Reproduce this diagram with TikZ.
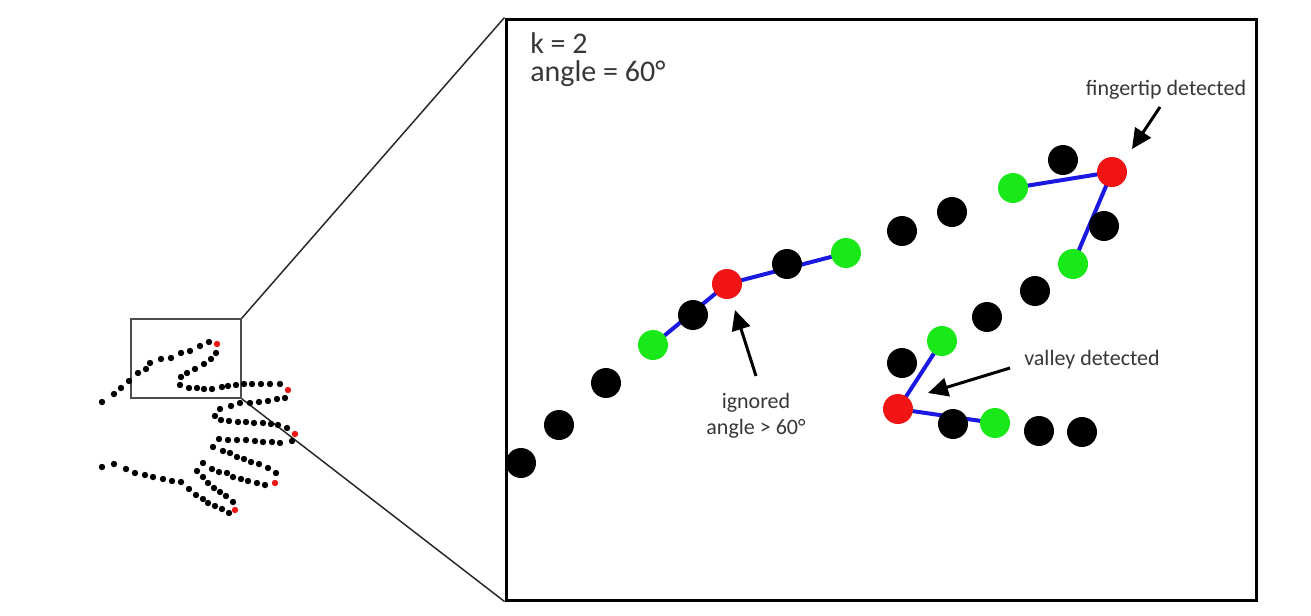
\documentclass[tikz,border=0pt]{standalone}
\usepackage{fontspec}
\setmainfont{Carlito}
\usetikzlibrary{arrows.meta,backgrounds}
\definecolor{dotgreen}{RGB}{25,232,25}
\definecolor{dotred}{RGB}{240,20,20}
\definecolor{lineblue}{RGB}{25,25,225}
\definecolor{txt}{RGB}{55,55,55}
\begin{document}
\begin{tikzpicture}[x=0.75pt,y=-0.75pt,
  bigdot/.style={circle,inner sep=0pt,minimum size=22.5pt},
  blk/.style={bigdot,fill=black},
  grn/.style={bigdot,fill=dotgreen},
  rd/.style={bigdot,fill=dotred},
  blueline/.style={draw=lineblue,line width=3pt},
  pointer/.style={draw=black,line width=2.25pt,-{Triangle[length=15pt,width=14pt]}},
  lbl/.style={text=txt,inner sep=0pt,font=\fontsize{16.5}{19.5}\selectfont},
  bigtxt/.style={text=txt,inner sep=0pt,anchor=west,font=\fontsize{22.5}{27}\selectfont},
  frame/.style={draw=black,line width=2.25pt,inner sep=0pt},
  smallframe/.style={draw=black!70,line width=1.1pt,inner sep=0pt},
  zoomline/.style={draw=black!85,line width=1.1pt}]
\useasboundingbox (0,0) rectangle (1311,615);
% frames
\node[smallframe,minimum width=82.5pt,minimum height=59.25pt] (sb) at (186,358.5) {};
\node[frame,minimum width=562.5pt,minimum height=435.75pt] (bb) at (881,309.5) {};
\draw[zoomline] (sb.north east) -- (bb.north west);
\draw[zoomline] (sb.south east) -- (bb.south west);
% small hand contour
\foreach \x/\y in {102/402,114/394,121/388,129/381,138/373,146/369,150/363,161/359,171/358,181/353,190/351,200/346,209/342,
  216/353,211/359,204/364,195/369,187/373,181/377,180/385,189/388,197/388,204/389,212/389,222/387,228/386,236/385,244/384,252/384,261/384,270/384,280/384,
  285/398,277/399,268/401,259/402,250/403,240/403,231/406,220/409,215/416,221/420,229/421,238/422,246/422,254/423,263/423,271/424,278/425,287/428,
  292/441,280/443,272/442,263/442,255/441,246/440,237/440,228/440,219/439,213/447,223/451,230/453,237/457,244/459,251/462,259/464,268/468,276/473,
  265/485,257/483,248/481,241/479,233/477,227/473,219/472,212/469,203/463,197/471,203/477,208/483,214/488,220/492,226/496,233/502,
  229/513,222/509,215/506,208/503,203/499,196/495,189/489,181/482,172/481,163/479,153/477,145/475,135/473,126/469,114/464,102/467}
  \fill[black] (\x,\y) circle[radius=2.4pt];
\foreach \x/\y in {217/344,288/390,295/434,275/483,235/510}
  \fill[dotred] (\x,\y) circle[radius=2.4pt];
% zoomed contour
\node[blk] (b1) at (521,463) {};
\node[blk] (b2) at (559,425) {};
\node[blk] (b3) at (606,383) {};
\node[grn] (g1) at (653,345) {};
\node[blk] (b4) at (693,315) {};
\node[rd]  (r1) at (727,284) {};
\node[blk] (b5) at (787,264) {};
\node[grn] (g2) at (846,253) {};
\node[blk] (b6) at (902,231) {};
\node[blk] (b7) at (952,212) {};
\node[grn] (g3) at (1013,188) {};
\node[blk] (b8) at (1063,160) {};
\node[rd]  (r2) at (1112,172) {};
\node[blk] (b9) at (1104,226) {};
\node[grn] (g4) at (1073,264) {};
\node[blk] (b10) at (1035,291) {};
\node[blk] (b11) at (987,317) {};
\node[grn] (g5) at (942,341) {};
\node[blk] (b12) at (902,363) {};
\node[rd]  (r3) at (898,409) {};
\node[blk] (b13) at (953,424) {};
\node[grn] (g6) at (995,423) {};
\node[blk] (b14) at (1039,431) {};
\node[blk] (b15) at (1082,432) {};
\begin{pgfonlayer}{background}
  \draw[blueline] (g1.center) -- (r1.center) -- (g2.center);
  \draw[blueline] (g3.center) -- (r2.center) -- (g4.center);
  \draw[blueline] (g5.center) -- (r3.center) -- (g6.center);
\end{pgfonlayer}
% texts
\node[bigtxt] (k) at (530,43) {k = 2};
\node[bigtxt] (ang) at (530,74) {angle = 60°};
\node[lbl] (ft) at (1166,90) {fingertip detected};
\node[lbl] (vd) at (1092,360) {valley detected};
\node[lbl,align=center] (ig) at (756,416) {ignored\\angle > 60°};
% pointers
\coordinate (ftT) at (1160,107);
\coordinate (ftH) at (1132,149);
\coordinate (vdT) at (1010,368);
\coordinate (vdH) at (928,393);
\coordinate (igT) at (756,376);
\coordinate (igH) at (735,310);
\draw[pointer] (ftT) -- (ftH);
\draw[pointer] (vdT) -- (vdH);
\draw[pointer] (igT) -- (igH);
\end{tikzpicture}
\end{document}
